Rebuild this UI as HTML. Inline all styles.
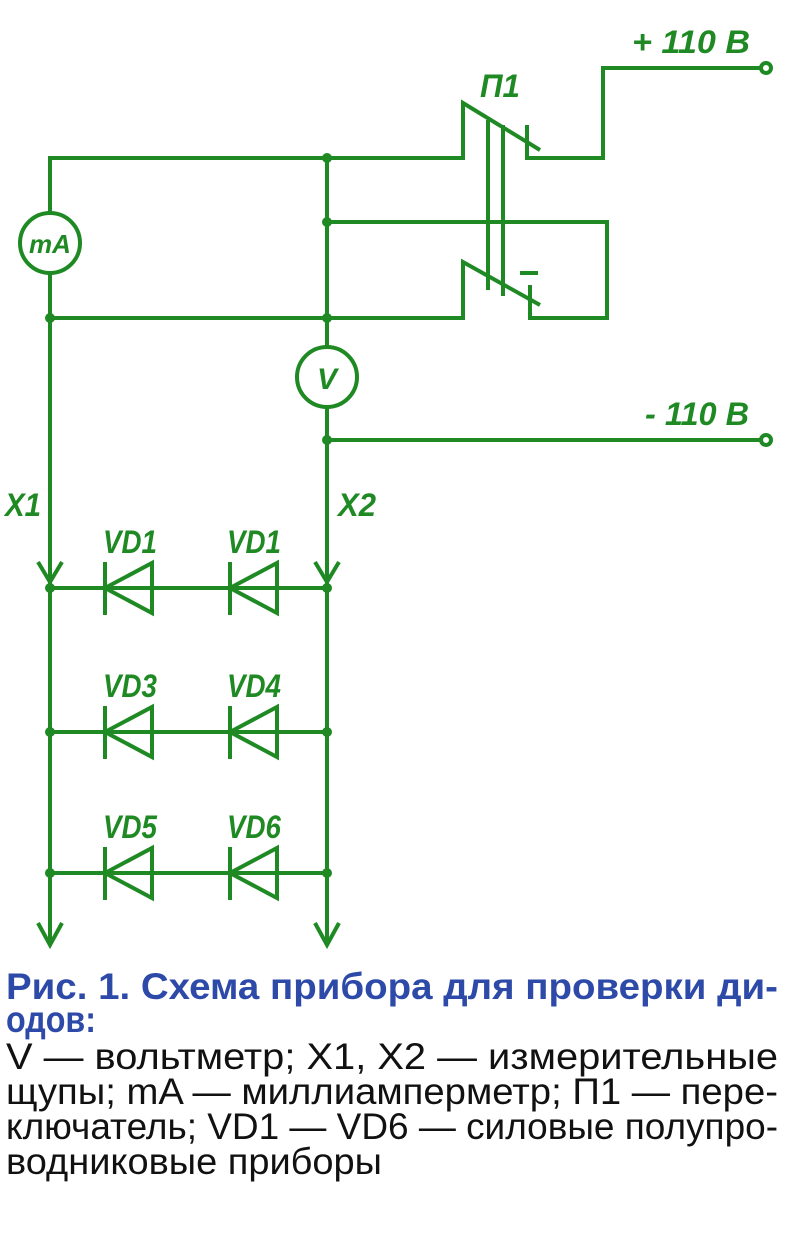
<!DOCTYPE html>
<html><head><meta charset="utf-8"><style>
html,body{margin:0;padding:0;background:#fff}
svg{display:block}
</style></head><body>
<svg width="787" height="1241" viewBox="0 0 787 1241" xmlns="http://www.w3.org/2000/svg">
<g stroke="#1f8a24" stroke-width="4" fill="none" stroke-linejoin="miter">
<polyline points="50,213 50,158 463,158 463,103 540,150"/>
<polyline points="527,125 527,158 603,158 603,68 760,68"/>
<circle cx="766" cy="68" r="5" fill="#fff"/>
<line x1="488" y1="120" x2="488" y2="290"/>
<line x1="503" y1="125" x2="503" y2="296"/>
<polyline points="327,222 607,222 607,318 530,318 530,285"/>
<polyline points="50,273 50,318 463,318 463,262 540,305"/>
<line x1="520" y1="273" x2="538" y2="273"/>
<circle cx="50" cy="243" r="30"/>
<line x1="327" y1="158" x2="327" y2="347"/>
<circle cx="327" cy="377" r="30"/>
<line x1="327" y1="407" x2="327" y2="945"/>
<line x1="327" y1="440" x2="760" y2="440"/>
<circle cx="766" cy="440" r="5" fill="#fff"/>
<line x1="50" y1="318" x2="50" y2="945"/>
<polyline points="38,562 50,582 62,562"/>
<polyline points="315,562 327,582 339,562"/>
<polyline points="38,923 50,945 62,923"/>
<polyline points="315,923 327,945 339,923"/>
<line x1="50" y1="588" x2="327" y2="588"/>
<line x1="50" y1="732" x2="327" y2="732"/>
<line x1="50" y1="873" x2="327" y2="873"/>
<g id="d">
<line x1="105" y1="562" x2="105" y2="615"/>
<polygon points="105,588 152,563 152,613"/>
<line x1="230" y1="562" x2="230" y2="615"/>
<polygon points="230,588 277,563 277,613"/>
</g>
<use href="#d" transform="translate(0,144)"/>
<use href="#d" transform="translate(0,285)"/>
</g>
<g fill="#1f8a24">
<circle cx="327" cy="158" r="5"/><circle cx="327" cy="222" r="5"/>
<circle cx="50" cy="318" r="5"/><circle cx="327" cy="318" r="5"/>
<circle cx="327" cy="440" r="5"/>
<circle cx="50" cy="588" r="5"/><circle cx="327" cy="588" r="5"/>
<circle cx="50" cy="732" r="5"/><circle cx="327" cy="732" r="5"/>
<circle cx="50" cy="873" r="5"/><circle cx="327" cy="873" r="5"/>
</g>
<g fill="#1f8a24" font-family="Liberation Sans, sans-serif" font-style="italic" font-weight="bold" font-size="32">
<text x="632" y="53" textLength="118" lengthAdjust="spacingAndGlyphs">+ 110 B</text>
<text x="480" y="97" textLength="40" lengthAdjust="spacingAndGlyphs">П1</text>
<text x="645" y="425" textLength="104" lengthAdjust="spacingAndGlyphs">- 110 B</text>
<text x="50" y="253" text-anchor="middle" font-size="26">mA</text>
<text x="317" y="389" font-size="30">V</text>
<text x="5" y="516" textLength="36" lengthAdjust="spacingAndGlyphs">X1</text>
<text x="338" y="516" textLength="38" lengthAdjust="spacingAndGlyphs">X2</text>
<text x="103" y="553" textLength="54" lengthAdjust="spacingAndGlyphs">VD1</text>
<text x="227" y="553" textLength="54" lengthAdjust="spacingAndGlyphs">VD1</text>
<text x="103" y="697" textLength="54" lengthAdjust="spacingAndGlyphs">VD3</text>
<text x="227" y="697" textLength="54" lengthAdjust="spacingAndGlyphs">VD4</text>
<text x="103" y="838" textLength="54" lengthAdjust="spacingAndGlyphs">VD5</text>
<text x="227" y="838" textLength="54" lengthAdjust="spacingAndGlyphs">VD6</text>
</g>
<g font-family="Liberation Sans, sans-serif" font-size="37">
<text x="6" y="999" fill="#2e4aa8" font-weight="bold" textLength="772" lengthAdjust="spacingAndGlyphs">Рис. 1. Схема прибора для проверки ди-</text>
<text x="6" y="1032" fill="#2e4aa8" font-weight="bold" textLength="90" lengthAdjust="spacingAndGlyphs">одов:</text>
<text x="6" y="1069" fill="#111" textLength="772" lengthAdjust="spacingAndGlyphs">V — вольтметр; X1, X2 — измерительные</text>
<text x="6" y="1104" fill="#111" textLength="772" lengthAdjust="spacingAndGlyphs">щупы; mA — миллиамперметр; П1 — пере-</text>
<text x="6" y="1139" fill="#111" textLength="772" lengthAdjust="spacingAndGlyphs">ключатель; VD1 — VD6 — силовые полупро-</text>
<text x="6" y="1174" fill="#111" textLength="376" lengthAdjust="spacingAndGlyphs">водниковые приборы</text>
</g>
</svg>
</body></html>
